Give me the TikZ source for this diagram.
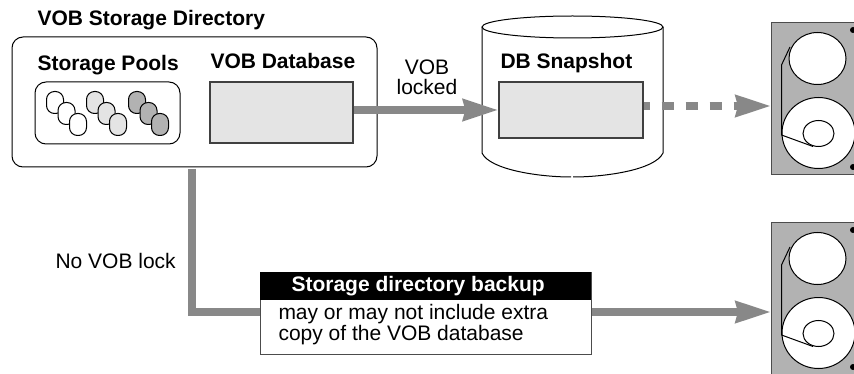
\documentclass[tikz,border=0pt]{standalone}
\usepackage{fontspec}
\setmainfont{Liberation Sans}
\usetikzlibrary{arrows.meta,shapes.geometric}
\definecolor{paleg}{HTML}{E4E4E4}
\definecolor{midg}{HTML}{B2B2B2}
\definecolor{flowg}{HTML}{888888}

\begin{document}
\begin{tikzpicture}[x=1pt,y=-1pt,line width=1pt,
  title/.style={font=\fontsize{21}{24}\selectfont\bfseries,inner sep=0pt},
  plain/.style={font=\fontsize{21}{20.5}\selectfont,inner sep=0pt,align=center},
  dbbox/.style={rectangle,draw=black!75,fill=paleg,line width=1.2pt,inner sep=0pt},
  panel/.style={rectangle,draw,rounded corners=11pt,inner sep=0pt},
  pool/.style={rectangle,draw,rounded corners=8pt,inner sep=0pt,minimum width=17pt,minimum height=22pt},
  reel/.style={ellipse,draw,fill=white,inner sep=0pt},
  tape/.style={rectangle,draw=black!70,fill=midg,inner sep=0pt,minimum width=100pt,minimum height=152pt},
  flow/.style={draw=flowg,line width=7.5pt,-{Stealth[length=35pt,width=21pt,inset=2pt]}},
  flowdash/.style={flow,dash pattern=on 12pt off 12pt,dash phase=6pt}]

 \clip (0,0) rectangle (854,374);

 \node[title,anchor=west] (dirtitle) at (37,20) {VOB Storage Directory};
 \node[panel,minimum width=365pt,minimum height=130pt] (dir) at (194.5,102) {};
 \node[title,anchor=west] (poolstitle) at (37,65) {Storage Pools};
 \node[panel,minimum width=145pt,minimum height=62pt] (pools) at (107.5,113) {};
 \node[title,anchor=west] (dbtitle) at (210,61) {VOB Database};
 \node[dbbox,minimum width=143pt,minimum height=61pt] (db) at (281.5,112.5) {};

 \foreach \gx/\gc in {55/white,95/paleg,137/midg}
   \foreach \i in {0,1,2}
     \node[pool,fill=\gc] (pool\gx\i) at (\gx+11.5*\i,102.5+11*\i) {};

 % snapshot cylinder
 \draw (482,27) -- (482,153) .. controls (490,170) and (540,177) .. (571,177)
   (573,177) .. controls (605,177) and (655,170) .. (663,153) -- (663,27);
 \node[ellipse,draw,minimum width=181pt,minimum height=22pt,inner sep=0pt] (lid) at (572.5,27) {};
 \node[title,anchor=west] (snaptitle) at (500,63.5) {DB Snapshot};
 \node[dbbox,minimum width=144pt,minimum height=56pt] (snap) at (571,110) {};
 \node[plain] (lockmark) at (427,77.5) {VOB\\locked};

 % tapes
 \foreach \nm/\ty/\ly in {tapeA/99/0,tapeB/299/200}
 {
   \node[tape] (\nm) at (821.5,\ty) {};
   \node[reel,minimum width=57pt,minimum height=52pt] (\nm top) at (817.5,58.5+\ly) {};
   \node[reel,minimum width=73pt,minimum height=71pt] (\nm low) at (818.5,133+\ly) {};
   \node[reel,minimum width=31pt,minimum height=26pt] (\nm hub) at (818.5,133.5+\ly) {};
   \draw (790,47+\ly) -- (781.5,65+\ly) -- (781.5,135+\ly) -- (813,146.5+\ly);
   \node[circle,fill=black,minimum size=6pt,inner sep=0pt] (\nm pinA) at (853,30+\ly) {};
   \node[circle,fill=black,minimum size=6pt,inner sep=0pt] (\nm pinB) at (853,167+\ly) {};
 }

 \coordinate (dirfoot) at (192,169);
 \coordinate (tapeAin) at (771,106);
 \coordinate (tapeBin) at (771,312);

 \node[rectangle,draw=black!70,fill=white,minimum width=331pt,minimum height=82pt,inner sep=0pt] (backup) at (425.5,313) {};
 \node[rectangle,fill=black,minimum width=331pt,minimum height=28pt,inner sep=0pt] (backuphead) at (425.5,286) {};
 \node[title,text=white,anchor=west] (headtext) at (291,286.5) {Storage directory backup};
 \node[plain,align=left,anchor=north west] (backupnote) at (278,304) {may or may not include extra\\copy of the VOB database};
 \node[plain,anchor=west] (nolock) at (55,261) {No VOB lock};

 \path (db.east |- snap.west) edge[flow] (snap.west);
 \path (snap.east |- tapeAin) edge[flowdash] (tapeAin);
 \path (backup.east |- tapeBin) edge[flow] (tapeBin);
 \draw[draw=flowg,line width=7.5pt] (dirfoot) |- (backup.west |- tapeBin);

\end{tikzpicture}
\end{document}
